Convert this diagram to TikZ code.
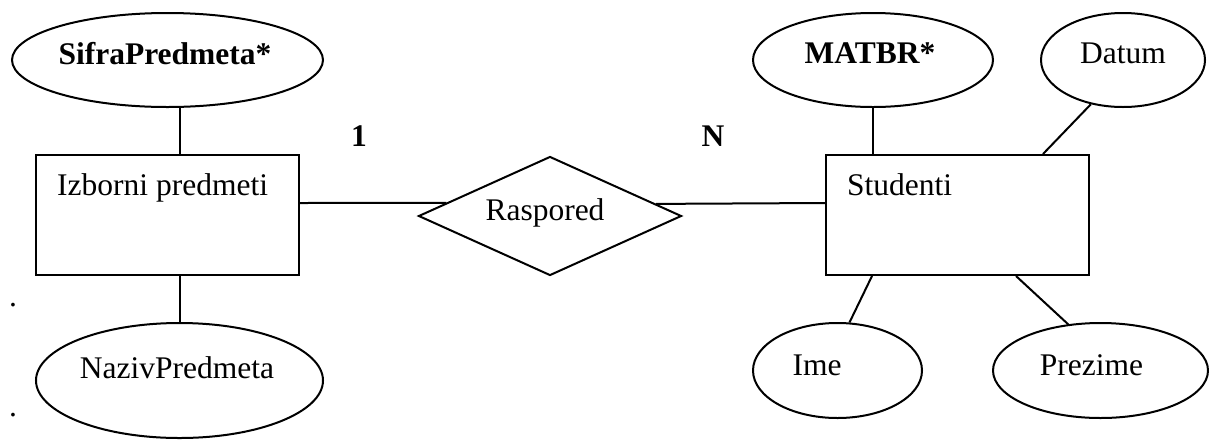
\documentclass[tikz,border=0pt]{standalone}
\usepackage{fontspec}
\setmainfont{Liberation Serif}
\usetikzlibrary{shapes.geometric,calc}
\begin{document}
\begin{tikzpicture}[x=1pt,y=-1pt,
  lw/.style={line width=2pt},
  attr/.style={ellipse,draw,lw,inner sep=0pt},
  entity/.style={rectangle,draw,lw,inner sep=0pt,minimum width=263pt,minimum height=120pt},
  rel/.style={diamond,draw,lw,inner sep=0pt,minimum width=263pt,minimum height=119pt},
  txt/.style={inner sep=0pt,font=\fontsize{31.5}{36}\selectfont},
  btxt/.style={inner sep=0pt,font=\fontsize{31.5}{36}\selectfont\bfseries},
  conn/.style={lw}]
\useasboundingbox (0,0) rectangle (1209,440);
% entities
\node[entity] (r1) at (167.5,215) {};
\node[entity] (r2) at (957.5,215) {};
\node[rel] (d) at (550,216) {};
% attributes
\node[attr,minimum width=311pt,minimum height=94pt] (sifra) at (167.5,60) {};
\node[attr,minimum width=287pt,minimum height=115pt] (naziv) at (179.5,380.5) {};
\node[attr,minimum width=240pt,minimum height=94pt] (matbr) at (873,60) {};
\node[attr,minimum width=164pt,minimum height=94pt] (datum) at (1123,60) {};
\node[attr,minimum width=169pt,minimum height=95pt] (ime) at (837.5,370.5) {};
\node[attr,minimum width=215pt,minimum height=95pt] (prezime) at (1100.5,370.5) {};
% texts
\node[btxt,anchor=base] (tsifra) at (165,64) {SifraPredmeta*};
\node[txt,anchor=base] (tnaziv) at (177,378) {NazivPredmeta};
\node[txt,anchor=base west] (tr1) at (57,195) {Izborni predmeti};
\node[txt,anchor=base west] (tr2) at (847,195) {Studenti};
\node[txt,anchor=base] (td) at (545,220) {Raspored};
\node[btxt,anchor=base] (one) at (359,146.5) {1};
\node[btxt,anchor=base] (many) at (713,146.5) {N};
\node[btxt,anchor=base] (tmatbr) at (870,63) {MATBR*};
\node[txt,anchor=base] (tdatum) at (1123,63) {Datum};
\node[txt,anchor=base] (time) at (817,375) {Ime};
\node[txt,anchor=base] (tprezime) at (1091.5,375) {Prezime};
\node[txt,anchor=base] (dot1) at (13,306) {.};
\node[txt,anchor=base] (dot2) at (13,416) {.};
% connectors
\draw[conn] (naziv.north |- r1.north) -- (naziv.north |- sifra.south);
\draw[conn] (naziv.north) -- (naziv.north |- r1.south);
\draw[conn] ($(r1.east)+(0,-12)$) -- ($(d.west)!0.217!(d.north)$);
\draw[conn] ($(d.east)!0.2!(d.north)$) -- ($(r2.west)+(0,-12)$);
\draw[conn] (matbr.south) -- (matbr.south |- r2.north);
\draw[conn] (datum.234) -- ($(r2.north east)+(-47,0)$);
\draw[conn] ($(r2.south west)+(47,0)$) -- (ime.76);
\draw[conn] ($(r2.south west)+(191,0)$) -- (prezime.125.6);
\end{tikzpicture}
\end{document}
